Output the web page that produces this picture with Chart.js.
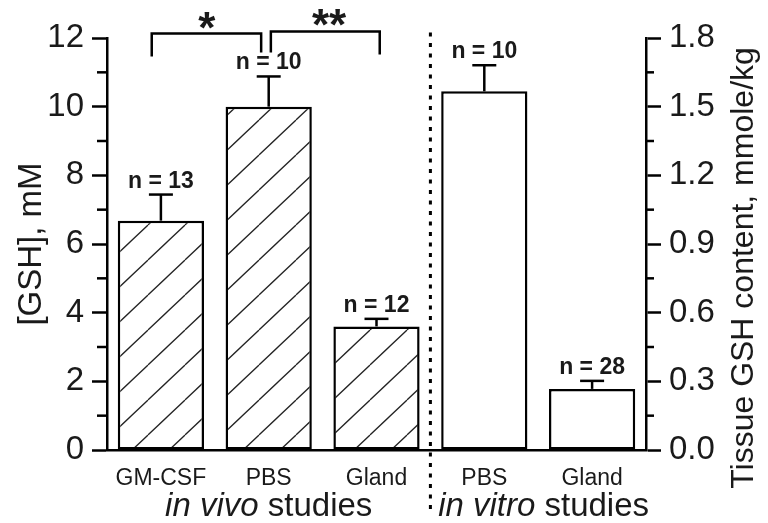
<!DOCTYPE html>
<html><head><meta charset="utf-8">
<script src="https://cdn.jsdelivr.net/npm/chart.js@4.4.0/dist/chart.umd.min.js"></script>
<style>html,body{margin:0;padding:0;background:#fff;overflow:hidden}canvas{display:block}</style>
</head><body>
<canvas id="c" width="768" height="523"></canvas>
<script>
// ---- data ----
const categories = ['GM-CSF', 'PBS', 'Gland', 'PBS', 'Gland'];
const inVivoMeans = [6.68, 10.0, 3.6, null, null];      // [GSH], mM (left axis)
const inVivoSEM   = [0.76, 0.88, 0.22, null, null];
const inVitroMeans = [null, null, null, 1.567, 0.267];  // mmole/kg (right axis)
const inVitroSEM   = [null, null, null, 0.114, 0.035];
const sampleSizes = ['n = 13', 'n = 10', 'n = 12', 'n = 10', 'n = 28'];
const leftMinorTicks = [1, 3, 5, 7, 9, 11];
const rightMinorTicks = [0.15, 0.45, 0.75, 1.05, 1.35, 1.65];
const groupNamesItalic = ['in vivo', 'in vitro'];
const groupNamesPlain = [' studies', ' studies'];
const groupCenters = [1, 3.55];
const dividerAt = 2.5;
const sigFrom = [-0.085, 1.02];
const sigTo = [0.93, 2.03];
const sigLevel = [12.13, 12.19];
const sigLegFrom = [11.46, 11.58];
const sigLegTo = [11.58, 11.52];
const sigLabels = ['*', '**'];
const sigLabelAt = [0.425, 1.56];

const FONT = "'Liberation Sans', Arial, Helvetica, sans-serif";
const TXT = '#1a1a1a';

// hatch pattern
function makeHatch() {
  const W = 37, H = 35;
  const c = document.createElement('canvas');
  c.width = W; c.height = H;
  const g = c.getContext('2d');
  g.fillStyle = '#fff'; g.fillRect(0, 0, W, H);
  g.strokeStyle = '#222'; g.lineWidth = 1.3;
  for (let k = -1; k <= 1; k++) {
    g.beginPath(); g.moveTo(0, H + k * H); g.lineTo(W, k * H); g.stroke();
  }
  const p = document.getElementById('c').getContext('2d').createPattern(c, 'repeat');
  try { p.setTransform(new DOMMatrix().translate(0, 15)); } catch (e) {}
  return p;
}

const overlay = {
  id: 'overlay',
  afterDatasetsDraw(chart) {
    const ctx = chart.ctx, x = chart.scales.x, y = chart.scales.y, y1 = chart.scales.y1;
    const line = (a, b, c, d) => { ctx.beginPath(); ctx.moveTo(a, b); ctx.lineTo(c, d); ctx.stroke(); };
    ctx.save();
    ctx.strokeStyle = '#000'; ctx.lineWidth = 2.5; ctx.lineCap = 'butt';
    // minor ticks
    leftMinorTicks.forEach(v => { const py = y.getPixelForValue(v); line(y.right - 10, py, y.right, py); });
    rightMinorTicks.forEach(v => { const py = y1.getPixelForValue(v); line(y1.left, py, y1.left + 8, py); });
    // error bars + n labels
    [[0, inVivoMeans, inVivoSEM, y], [1, inVitroMeans, inVitroSEM, y1]].forEach(([di, means, sems, sc]) => {
      const meta = chart.getDatasetMeta(di);
      means.forEach((m, i) => {
        if (m == null) return;
        const el = meta.data[i];
        const top = sc.getPixelForValue(m + sems[i]);
        ctx.lineWidth = 2.5;
        line(el.x, el.y, el.x, top);
        line(el.x - 12, top, el.x + 12, top);
        ctx.fillStyle = TXT;
        ctx.font = 'bold 23px ' + FONT;
        ctx.textAlign = 'center'; ctx.textBaseline = 'alphabetic';
        ctx.fillText(sampleSizes[i], el.x, top - 7);
      });
    });
    // divider
    ctx.save();
    ctx.lineWidth = 3; ctx.setLineDash([4, 6.5]);
    const dx = x.getPixelForValue(dividerAt);
    line(dx, y.getPixelForValue(12.16), dx, chart.height - 8);
    ctx.restore();
    // significance brackets
    ctx.lineWidth = 2.5;
    sigLabels.forEach((lab, k) => {
      const x0 = x.getPixelForValue(sigFrom[k]), x1 = x.getPixelForValue(sigTo[k]);
      const yt = y.getPixelForValue(sigLevel[k]);
      ctx.beginPath();
      ctx.moveTo(x0, y.getPixelForValue(sigLegFrom[k]));
      ctx.lineTo(x0, yt); ctx.lineTo(x1, yt);
      ctx.lineTo(x1, y.getPixelForValue(sigLegTo[k]));
      ctx.stroke();
      ctx.fillStyle = TXT; ctx.font = 'bold 44px ' + FONT;
      ctx.textAlign = 'center'; ctx.textBaseline = 'alphabetic';
      ctx.fillText(lab, x.getPixelForValue(sigLabelAt[k]), yt + 9);
    });
    // group labels
    ctx.fillStyle = TXT; ctx.textBaseline = 'alphabetic'; ctx.textAlign = 'left';
    groupNamesItalic.forEach((it, k) => {
      ctx.font = 'italic 33px ' + FONT; const w1 = ctx.measureText(it).width;
      ctx.font = '33px ' + FONT; const w2 = ctx.measureText(groupNamesPlain[k]).width;
      const cx = x.getPixelForValue(groupCenters[k]);
      const sx = cx - (w1 + w2) / 2;
      ctx.font = 'italic 33px ' + FONT; ctx.fillText(it, sx, 516);
      ctx.font = '33px ' + FONT; ctx.fillText(groupNamesPlain[k], sx + w1, 516);
    });
    // right axis title (reads bottom to top)
    ctx.save();
    ctx.translate(753, 268); ctx.rotate(-Math.PI / 2);
    ctx.font = '32px ' + FONT; ctx.textAlign = 'center'; ctx.textBaseline = 'alphabetic';
    ctx.fillText('Tissue GSH content, mmole/kg', 0, 0);
    ctx.restore();
    ctx.restore();
  }
};

const tickFont = { family: FONT, size: 33 };
new Chart(document.getElementById('c'), {
  type: 'bar',
  data: {
    labels: categories,
    datasets: [
      { label: 'in vivo', data: inVivoMeans, yAxisID: 'y', backgroundColor: makeHatch(),
        borderColor: '#000', borderWidth: 2.5, borderSkipped: false, grouped: false,
        barPercentage: 0.8, categoryPercentage: 1 },
      { label: 'in vitro', data: inVitroMeans, yAxisID: 'y1', backgroundColor: '#fff',
        borderColor: '#000', borderWidth: 2.5, borderSkipped: false, grouped: false,
        barPercentage: 0.8, categoryPercentage: 1 }
    ]
  },
  options: {
    responsive: false, animation: false, devicePixelRatio: 1,
    layout: { padding: { top: 38, left: 0, right: 0, bottom: 0 } },
    plugins: { legend: { display: false }, tooltip: { enabled: false } },
    scales: {
      x: {
        position: 'bottom',
        grid: { display: false, drawTicks: false },
        border: { display: true, color: '#000', width: 2.5 },
        ticks: { padding: 15, font: { family: FONT, size: 23 }, color: TXT, autoSkip: false, maxRotation: 0 },
        afterFit: s => { s.height = 73; }
      },
      y: {
        position: 'left', min: 0, max: 12,
        ticks: { stepSize: 2, font: tickFont, color: TXT, padding: 8 },
        grid: { drawOnChartArea: false, drawTicks: true, tickLength: 15, tickWidth: 2.5, tickColor: '#000' },
        border: { display: true, color: '#000', width: 2.5 },
        title: { display: true, text: '[GSH], mM', color: TXT, font: { family: FONT, size: 33, lineHeight: 1 }, padding: { top: 15, bottom: 0 } },
        afterFit: s => { s.width = 107; }
      },
      y1: {
        position: 'right', min: 0, max: 1.8,
        ticks: { stepSize: 0.3, font: tickFont, color: TXT, padding: 8, callback: v => Number(v).toFixed(1) },
        grid: { drawOnChartArea: false, drawTicks: true, tickLength: 15, tickWidth: 2.5, tickColor: '#000' },
        border: { display: true, color: '#000', width: 2.5 },
        afterFit: s => { s.width = 122; }
      }
    }
  },
  plugins: [overlay]
});
</script>
</body></html>
